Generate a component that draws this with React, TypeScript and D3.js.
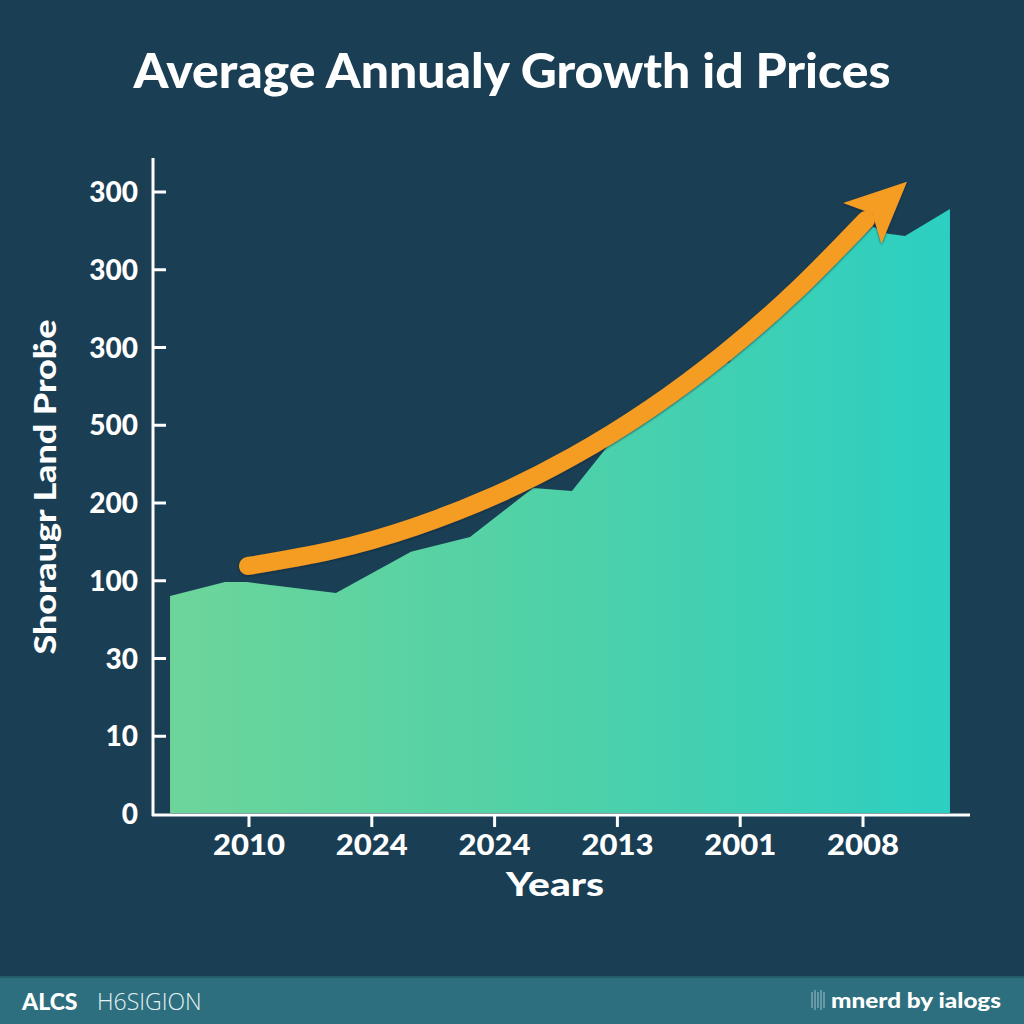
import React from "react";
import * as d3 from "d3";

// ---- data ----
const xTickPositions = [0, 1, 2, 3, 4, 5];
const xTickLabels = ["2010", "2024", "2024", "2013", "2001", "2008"];
const yTickPositions = [0, 1, 2, 3, 4, 5, 6, 7, 8];
const yTickLabels = ["0", "10", "30", "100", "200", "500", "300", "300", "300"];

// area series (x in year-slot units, y in tick-slot units)
const areaX = [-0.643, -0.195, -0.016, 0.708, 1.319, 1.8, 2.313, 2.63, 3.078, 3.697, 3.917, 3.95, 4.487, 5.081, 5.204, 5.342, 5.708];
const areaY = [2.79, 2.97, 2.97, 2.83, 3.36, 3.55, 4.18, 4.14, 5.03, 5.68, 5.8, 5.98, 6.74, 7.54, 7.45, 7.42, 7.77];

// trend arrow series
const trendX = [-0.008, 0.68, 1.351, 2.006, 2.643, 3.264, 3.867, 4.454, 5.024];
const trendY = [3.177, 3.379, 3.682, 4.086, 4.592, 5.199, 5.907, 6.716, 7.627];
const arrowTip = { x: 5.358, y: 8.12 };

const title = "Average Annualy Growth id Prices";
const yAxisTitle = "Shoraugr Land Proḃe";
const xAxisTitle = "Years";

const W = 1024;
const H = 1024;
const BG = "#1a3e53";
const ORANGE = "#f59c22";

export default function App() {
  const x = d3.scaleLinear().domain([0, 5]).range([249, 863]);
  const y = d3.scaleLinear().domain([0, 8]).range([813, 191]);

  const areaData = areaX.map((v, i) => ({ x: v, y: areaY[i] }));
  const area = d3
    .area<{ x: number; y: number }>()
    .x((d) => x(d.x))
    .y0(y(0))
    .y1((d) => y(d.y));

  const trendData = trendX.map((v, i) => ({ x: v, y: trendY[i] }));
  const trendLine = d3
    .line<{ x: number; y: number }>()
    .x((d) => x(d.x))
    .y((d) => y(d.y))
    .curve(d3.curveNatural);

  // arrow head geometry from last trend point to tip
  const last = trendData[trendData.length - 1];
  const bx = x(last.x), by = y(last.y);
  const tx = x(arrowTip.x), ty = y(arrowTip.y);
  const dx = tx - bx, dy = ty - by;
  const len = Math.hypot(dx, dy);
  const ux = dx / len, uy = dy / len;
  const px = -uy, py = ux;
  const half = 28;
  const back = 5;
  const notch = 9;
  const headPts = [
    [tx, ty],
    [bx - ux * back + px * half, by - uy * back + py * half],
    [bx + ux * notch, by + uy * notch],
    [bx - ux * back - px * half, by - uy * back - py * half],
  ];

  const font = "Lato, 'Open Sans', sans-serif";

  return (
    <svg
      width={W}
      height={H}
      viewBox={`0 0 ${W} ${H}`}
      style={{ position: "absolute", left: 0, top: 0, display: "block" }}
    >
      <defs>
        <linearGradient id="areaGrad" x1="170" x2="950" y1="0" y2="0" gradientUnits="userSpaceOnUse">
          <stop offset="0" stopColor="#6dd59a" />
          <stop offset="0.5" stopColor="#4fd1a8" />
          <stop offset="1" stopColor="#2ccfc2" />
        </linearGradient>
        <filter id="shadow" x="-10%" y="-10%" width="120%" height="120%">
          <feDropShadow dx="0" dy="1" stdDeviation="1.2" floodColor="#0d2130" floodOpacity="0.7" />
        </filter>
      </defs>
      <rect x={0} y={0} width={W} height={H} fill={BG} />

      {/* title */}
      <text
        x={512}
        y={88}
        textAnchor="middle"
        fill="#ffffff"
        fontFamily={font}
        fontWeight={900}
        fontSize={47}
        textLength={757}
        lengthAdjust="spacingAndGlyphs"
      >
        {title}
      </text>

      {/* area */}
      <path d={area(areaData) || ""} fill="url(#areaGrad)" />

      {/* trend arrow */}
      <g filter="url(#shadow)">
        <path
          d={trendLine(trendData) || ""}
          fill="none"
          stroke={ORANGE}
          strokeWidth={18}
          strokeLinecap="round"
        />
        <polygon points={headPts.map((p) => p.join(",")).join(" ")} fill={ORANGE} />
      </g>

      {/* axes */}
      <line x1={153} x2={153} y1={158} y2={816} stroke="#ffffff" strokeWidth={3} />
      <line x1={152} x2={970} y1={815} y2={815} stroke="#ffffff" strokeWidth={3} />

      {yTickPositions.map((t, i) => (
        <g key={"y" + i}>
          {i > 0 && (
            <line x1={153} x2={166} y1={y(t) + 1} y2={y(t) + 1} stroke="#ffffff" strokeWidth={3} />
          )}
          <text
            x={138}
            y={y(t) + 11}
            textAnchor="end"
            fill="#ffffff"
            fontFamily={font}
            fontWeight={900}
            fontSize={28}
          >
            {yTickLabels[i]}
          </text>
        </g>
      ))}

      {xTickPositions.map((t, i) => (
        <g key={"x" + i}>
          <line x1={x(t)} x2={x(t)} y1={815} y2={827} stroke="#ffffff" strokeWidth={3} />
          <text
            x={x(t)}
            y={855}
            textAnchor="middle"
            fill="#ffffff"
            fontFamily={font}
            fontWeight={900}
            fontSize={29}
            textLength={72}
            lengthAdjust="spacingAndGlyphs"
          >
            {xTickLabels[i]}
          </text>
        </g>
      ))}

      <text
        x={555}
        y={896}
        textAnchor="middle"
        fill="#ffffff"
        fontFamily={font}
        fontWeight={900}
        fontSize={33}
        textLength={98}
        lengthAdjust="spacingAndGlyphs"
      >
        {xAxisTitle}
      </text>

      <text
        transform={`translate(56,487) rotate(-90)`}
        textAnchor="middle"
        fill="#ffffff"
        fontFamily={font}
        fontWeight={900}
        fontSize={30}
        textLength={335}
        lengthAdjust="spacingAndGlyphs"
      >
        {yAxisTitle}
      </text>

      {/* footer */}
      <rect x={0} y={977} width={W} height={47} fill="#2d6f7e" />
      <rect x={0} y={976} width={W} height={2} fill="#245c6c" />
      <text x={22} y={1010} fill="#ffffff" fontFamily={font} fontWeight={900} fontSize={23}>
        ALCS
      </text>
      <text x={97} y={1010} fill="#e4f2f4" fontFamily="'Open Sans', sans-serif" fontWeight={300} fontSize={23}>
        H6SIGION
      </text>
      <g stroke="#8fb5bf" strokeWidth={1.5} opacity={0.8}>
        {[0, 3, 6, 9, 12].map((o, i) => (
          <line key={i} x1={812 + o} x2={812 + o} y1={995 - (i % 2 ? 5 : 3)} y2={1005 + (i % 2 ? 5 : 3)} />
        ))}
      </g>
      <text
        x={1001}
        y={1008}
        textAnchor="end"
        fill="#ffffff"
        fontFamily={font}
        fontWeight={900}
        fontSize={21}
        textLength={170}
        lengthAdjust="spacingAndGlyphs"
      >
        mnerd by ialogs
      </text>
    </svg>
  );
}
